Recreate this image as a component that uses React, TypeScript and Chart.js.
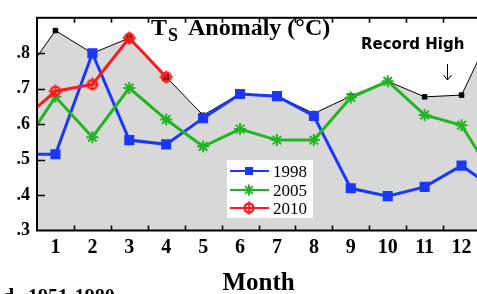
import React, { useEffect, useRef } from "react";
import { Chart, registerables } from "chart.js";

Chart.register(...registerables);

// Months 0 (previous Dec) .. 13 (next Jan); the axis shows 0.5 .. 12.5
const months = [0, 1, 2, 3, 4, 5, 6, 7, 8, 9, 10, 11, 12, 13];
const monthTicks = [1, 2, 3, 4, 5, 6, 7, 8, 9, 10, 11, 12];
const yTicks = [0.3, 0.4, 0.5, 0.6, 0.7, 0.8];

const recordHigh = [0.716, 0.864, 0.8, 0.843, 0.733, 0.625, 0.686, 0.68, 0.63, 0.679, 0.721, 0.677, 0.682, 0.9];
const y1998 = [0.515, 0.515, 0.8, 0.555, 0.543, 0.617, 0.685, 0.679, 0.623, 0.419, 0.397, 0.423, 0.483, 0.41];
const y2005 = [0.52, 0.677, 0.563, 0.702, 0.613, 0.537, 0.586, 0.555, 0.555, 0.675, 0.721, 0.626, 0.597, 0.43];
const y2010 = [0.603, 0.693, 0.712, 0.843, 0.733];

const BLUE = "rgb(25,55,255)";
const GREEN = "rgb(35,180,35)";
const RED = "rgb(255,25,25)";
const GRAY = "rgb(216,216,216)";
const SERIF = "'Liberation Serif', 'Times New Roman', serif";

function makeCircleCross(size: number): HTMLCanvasElement {
  const c = document.createElement("canvas");
  c.width = size;
  c.height = size;
  const g = c.getContext("2d")!;
  const m = size / 2;
  g.strokeStyle = RED;
  g.lineWidth = 2.4;
  g.beginPath();
  g.arc(m, m, m - 2.5, 0, Math.PI * 2);
  g.stroke();
  g.lineWidth = 1.6;
  g.beginPath();
  g.moveTo(m, 0.5);
  g.lineTo(m, size - 0.5);
  g.moveTo(0.5, m);
  g.lineTo(size - 0.5, m);
  g.stroke();
  return c;
}

function toPts(vals: number[]) {
  return vals.map((v, i) => ({ x: months[i], y: v }));
}

const decorPlugin = {
  id: "decor",
  afterDatasetsDraw(chart: any) {
    const { ctx, chartArea: a, scales } = chart;
    const xs = scales.x;
    const ys = scales.y;
    ctx.save();
    ctx.strokeStyle = "#000";
    ctx.lineWidth = 1.6;
    ctx.beginPath();
    for (let m = 1.5; m < 12.5; m += 1) {
      const px = Math.round(xs.getPixelForValue(m)) + 0.5;
      ctx.moveTo(px, a.bottom);
      ctx.lineTo(px, a.bottom - 5);
      ctx.moveTo(px, a.top);
      ctx.lineTo(px, a.top + 5);
    }
    for (let v = 0.4; v < 0.85; v += 0.1) {
      const py = Math.round(ys.getPixelForValue(v)) + 0.5;
      ctx.moveTo(a.left, py);
      ctx.lineTo(a.left + 8, py);
    }
    ctx.stroke();
    ctx.lineWidth = 2;
    ctx.strokeRect(a.left, a.top, a.right - a.left, a.bottom - a.top);
    ctx.restore();
  },
  afterDraw(chart: any) {
    const { ctx, chartArea: a } = chart;
    ctx.save();
    ctx.fillStyle = "#000";
    ctx.textBaseline = "alphabetic";
    // Title
    ctx.font = `bold 24px ${SERIF}`;
    ctx.textAlign = "left";
    ctx.fillText("T", 151, 35);
    ctx.font = `bold 18px ${SERIF}`;
    ctx.fillText("S", 168, 41);
    ctx.font = `bold 24px ${SERIF}`;
    ctx.fillText("Anomaly (°C)", 188, 35);
    // Record High annotation
    ctx.font = `bold 15px 'DejaVu Sans', sans-serif`;
    ctx.fillText("Record High", 361, 49);
    ctx.strokeStyle = "#000";
    ctx.lineWidth = 1;
    ctx.beginPath();
    ctx.moveTo(447.5, 64);
    ctx.lineTo(447.5, 80);
    ctx.moveTo(443.5, 75);
    ctx.lineTo(447.5, 80);
    ctx.lineTo(451.5, 75);
    ctx.stroke();
    // Axis title
    ctx.font = `bold 25px ${SERIF}`;
    ctx.textAlign = "center";
    ctx.fillText("Month", (a.left + a.right) / 2, 290);
    // Bottom-left note (cut off)
    ctx.font = `bold 20px ${SERIF}`;
    ctx.textAlign = "left";
    ctx.fillText("1951-1980", 28, 303);
    ctx.textAlign = "right";
    ctx.fillText("d", 14, 303);
    // Legend
    const lx = 227, ly = 160, lw = 86, lh = 58;
    ctx.fillStyle = "#fff";
    ctx.fillRect(lx, ly, lw, lh);
    const ds = chart.data.datasets;
    const rows = [
      { i: 2, y: 171, label: "1998" },
      { i: 1, y: 190, label: "2005" },
      { i: 0, y: 208, label: "2010" },
    ];
    rows.forEach((r) => {
      const d = ds[r.i];
      ctx.strokeStyle = d.borderColor;
      ctx.lineWidth = 2;
      ctx.beginPath();
      ctx.moveTo(230, r.y);
      ctx.lineTo(269, r.y);
      ctx.stroke();
      if (d.pointStyle === "rect") {
        ctx.fillStyle = d.borderColor;
        ctx.fillRect(245, r.y - 4, 8, 8);
      } else if (d.pointStyle === "star") {
        ctx.lineWidth = 2;
        ctx.beginPath();
        const R = 5.5;
        for (let k = 0; k < 4; k++) {
          const ang = (k * Math.PI) / 4;
          ctx.moveTo(249 + R * Math.cos(ang), r.y + R * Math.sin(ang));
          ctx.lineTo(249 - R * Math.cos(ang), r.y - R * Math.sin(ang));
        }
        ctx.stroke();
      } else {
        ctx.drawImage(d.pointStyle, 249 - 7, r.y - 7);
      }
      ctx.fillStyle = "#000";
      ctx.font = `17px ${SERIF}`;
      ctx.textAlign = "left";
      ctx.fillText(r.label, 273, r.y + 6);
    });
    ctx.restore();
  },
};

export default function App() {
  const ref = useRef<HTMLCanvasElement | null>(null);
  useEffect(() => {
    if (!ref.current) return;
    const circleCross = makeCircleCross(14);
    const chart = new Chart(ref.current, {
      type: "line",
      data: {
        datasets: [
          {
            label: "2010",
            data: toPts(y2010),
            borderColor: RED,
            backgroundColor: RED,
            borderWidth: 3,
            pointStyle: circleCross as any,
            pointRadius: 7,
            order: 0,
            clip: 0 as any,
          },
          {
            label: "2005",
            data: toPts(y2005),
            borderColor: GREEN,
            backgroundColor: GREEN,
            borderWidth: 3,
            pointStyle: "star",
            pointRadius: 6,
            pointBorderWidth: 2,
            order: 1,
            clip: 0 as any,
          },
          {
            label: "1998",
            data: toPts(y1998),
            borderColor: BLUE,
            backgroundColor: BLUE,
            borderWidth: 3,
            pointStyle: "rect",
            pointRadius: 5,
            order: 2,
            clip: 0 as any,
          },
          {
            label: "Record High",
            data: toPts(recordHigh),
            borderColor: "#000",
            backgroundColor: GRAY,
            pointBackgroundColor: "#000",
            borderWidth: 1,
            pointStyle: "rect",
            pointRadius: 3.2,
            fill: "start",
            order: 3,
            clip: 0 as any,
          },
        ],
      },
      options: {
        animation: false,
        responsive: false,
        devicePixelRatio: 1,
        layout: { padding: { top: 5.5, right: 7, left: 0, bottom: 0 } },
        plugins: {
          legend: { display: false },
          tooltip: { enabled: false },
          title: { display: false },
        },
        scales: {
          x: {
            type: "linear",
            min: 0.5,
            max: 12.5,
            afterBuildTicks: (s: any) => {
              s.ticks = monthTicks.map((v) => ({ value: v }));
            },
            afterFit: (s: any) => {
              s.height = 63.5;
            },
            grid: { display: false, drawTicks: false },
            border: { display: false },
            ticks: {
              autoSkip: false,
              maxRotation: 0,
              padding: 5,
              color: "#000",
              font: { family: SERIF, size: 20, weight: "bold" },
              callback: (v: any) => String(v),
            },
          },
          y: {
            min: 0.3,
            max: 0.9,
            afterBuildTicks: (s: any) => {
              s.ticks = yTicks.map((v) => ({ value: v }));
            },
            afterFit: (s: any) => {
              s.width = 37;
            },
            grid: { display: false, drawTicks: false },
            border: { display: false },
            ticks: {
              padding: 7,
              color: "#000",
              font: { family: SERIF, size: 18, weight: "bold" },
              callback: (v: any) => "." + Math.round(Number(v) * 10),
            },
          },
        },
      },
      plugins: [decorPlugin],
    } as any);
    return () => chart.destroy();
  }, []);
  return (
    <div style={{ position: "absolute", left: 0, top: 0, width: 477, height: 294, overflow: "hidden", background: "#fff" }}>
      <canvas ref={ref} width={490} height={294} style={{ width: 490, height: 294, display: "block" }} />
    </div>
  );
}
